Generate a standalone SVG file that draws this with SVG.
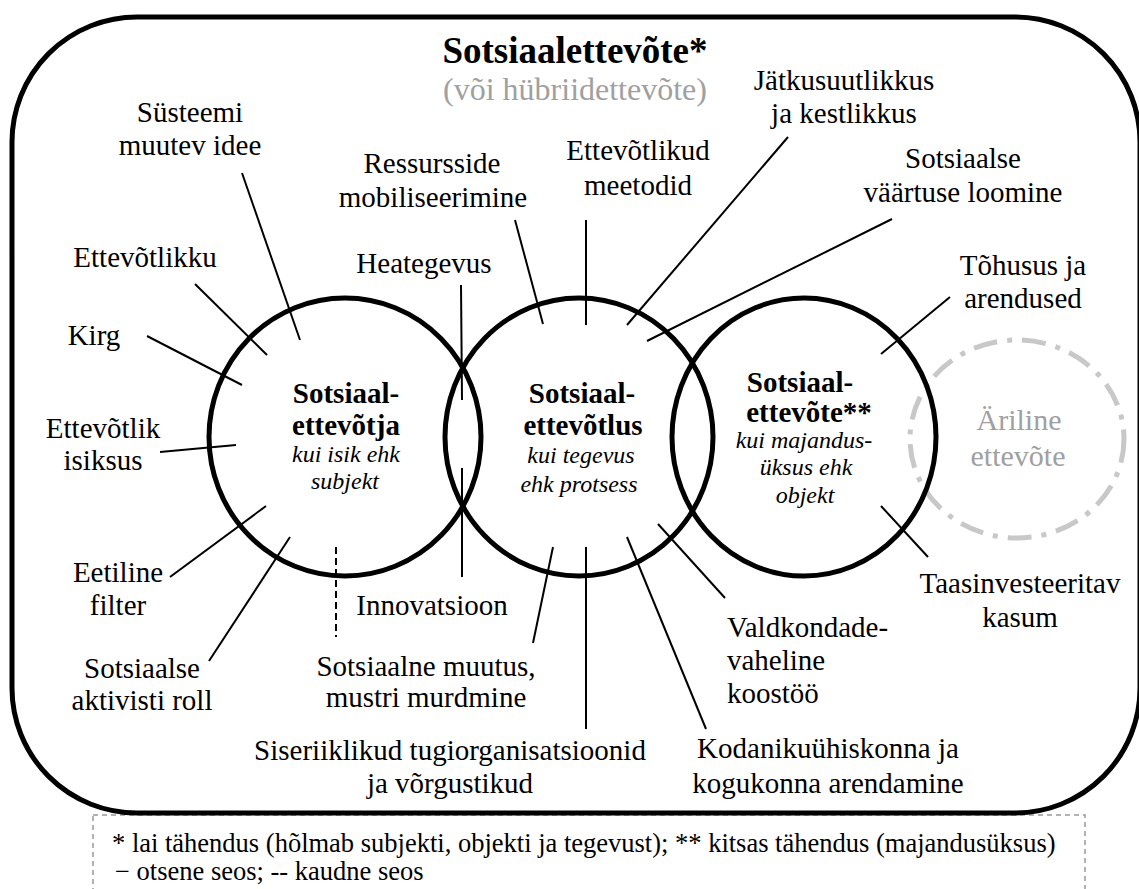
<svg xmlns="http://www.w3.org/2000/svg" width="1139" height="889" viewBox="0 0 1139 889" font-family="'Liberation Serif', 'DejaVu Serif', serif">
<style>
text{font-family:'Liberation Serif','DejaVu Serif',serif;fill:#000}
.lbl{font-size:29px;text-anchor:middle}
.lbl-l{font-size:29px;text-anchor:start}
.cb{font-size:29px;font-weight:bold;text-anchor:middle}
.ci{font-size:24px;font-style:italic;text-anchor:middle}
.gray{fill:#a0a0a0}
.circ{fill:none;stroke:#000;stroke-width:5}
.ln{stroke:#000;stroke-width:2;fill:none}
.dash{stroke:#000;stroke-width:2;stroke-dasharray:7 4;fill:none}
.leg{font-size:26.5px}
</style>
<rect width="1139" height="889" fill="#fff"/>
<g id="legend">
<rect x="93" y="815" width="992" height="100" fill="none" stroke="#999" stroke-width="1.5" stroke-dasharray="5 4"/>
<text class="leg" x="112" y="852">* lai tähendus (hõlmab subjekti, objekti ja tegevust); ** kitsas tähendus (majandusüksus)</text>
<text class="leg" x="115" y="880">− otsene seos; -- kaudne seos</text>
</g>
<g id="frame">
<rect x="12" y="17" width="1128" height="796" rx="125" ry="125" fill="none" stroke="#000" stroke-width="5"/>
<text x="575" y="63" style="font-size:37px;font-weight:bold;text-anchor:middle">Sotsiaalettevõte*</text>
<text class="gray" x="575" y="100" style="font-size:32px;text-anchor:middle">(või hübriidettevõte)</text>
</g>
<g id="arilise">
<ellipse cx="1017" cy="439" rx="107" ry="99" fill="none" stroke="#c8c8c8" stroke-width="5" stroke-dasharray="24 10 5 10"/>
<text class="gray" x="1019" y="430" style="font-size:30px;text-anchor:middle">Äriline</text>
<text class="gray" x="1018" y="466" style="font-size:30px;text-anchor:middle">ettevõte</text>
</g>
<g id="connectors">
<line class="ln" x1="242" y1="173" x2="300" y2="340"/>
<line class="ln" x1="195" y1="284" x2="267" y2="355"/>
<line class="ln" x1="147" y1="336" x2="242" y2="385"/>
<line class="ln" x1="160" y1="452" x2="236" y2="445"/>
<line class="ln" x1="170" y1="577" x2="266" y2="506"/>
<line class="ln" x1="209" y1="661" x2="290" y2="537"/>
<line class="dash" x1="336" y1="547" x2="336" y2="637"/>
<line class="ln" x1="461" y1="285" x2="462" y2="400"/>
<line class="ln" x1="462" y1="468" x2="462" y2="577"/>
<line class="ln" x1="515" y1="220" x2="543" y2="324"/>
<line class="ln" x1="586" y1="220" x2="586" y2="325"/>
<line class="ln" x1="788" y1="137" x2="627" y2="325"/>
<line class="ln" x1="892" y1="219" x2="647" y2="341"/>
<line class="ln" x1="950" y1="297" x2="881" y2="354"/>
<line class="ln" x1="881" y1="506" x2="928" y2="557"/>
<line class="ln" x1="658" y1="524" x2="725" y2="598"/>
<line class="ln" x1="627" y1="537" x2="706" y2="729"/>
<line class="ln" x1="586" y1="547" x2="586" y2="729"/>
<line class="ln" x1="553" y1="547" x2="533" y2="643"/>
</g>
<g id="ettevotja">
<ellipse class="circ" cx="345" cy="437" rx="136" ry="139"/>
<text class="cb" x="346" y="403">Sotsiaal-</text>
<text class="cb" x="346" y="435">ettevõtja</text>
<text class="ci" x="346" y="462">kui isik ehk</text>
<text class="ci" x="345" y="489">subjekt</text>
</g>
<g id="ettevotlus">
<ellipse class="circ" cx="579" cy="437" rx="134" ry="139"/>
<text class="cb" x="582" y="403">Sotsiaal-</text>
<text class="cb" x="583" y="435">ettevõtlus</text>
<text class="ci" x="581" y="463">kui tegevus</text>
<text class="ci" x="579" y="492">ehk protsess</text>
</g>
<g id="ettevote">
<ellipse class="circ" cx="804" cy="437" rx="132" ry="139"/>
<text class="cb" x="800" y="392">Sotsiaal-</text>
<text class="cb" x="809" y="422">ettevõte**</text>
<text class="ci" x="804" y="448">kui majandus-</text>
<text class="ci" x="806" y="475">üksus ehk</text>
<text class="ci" x="805" y="503">objekt</text>
</g>
<g id="susteemi"><text class="lbl" x="190" y="122">Süsteemi</text><text class="lbl" x="190" y="155">muutev idee</text></g>
<g id="ettevotlikku"><text class="lbl" x="145" y="267">Ettevõtlikku</text></g>
<g id="kirg"><text class="lbl" x="94" y="345">Kirg</text></g>
<g id="isiksus"><text class="lbl" x="103" y="438">Ettevõtlik</text><text class="lbl" x="103" y="470">isiksus</text></g>
<g id="filter"><text class="lbl" x="118" y="582">Eetiline</text><text class="lbl" x="118" y="615">filter</text></g>
<g id="aktivist"><text class="lbl" x="142" y="678">Sotsiaalse</text><text class="lbl" x="142" y="710">aktivisti roll</text></g>
<g id="heategevus"><text class="lbl" x="424" y="273">Heategevus</text></g>
<g id="innovatsioon"><text class="lbl" x="432" y="615">Innovatsioon</text></g>
<g id="ressursid"><text class="lbl" x="432" y="173">Ressursside</text><text class="lbl" x="433" y="207">mobiliseerimine</text></g>
<g id="meetodid"><text class="lbl" x="638" y="160">Ettevõtlikud</text><text class="lbl" x="638" y="195">meetodid</text></g>
<g id="jatkusuutlikkus"><text class="lbl" x="844" y="90">Jätkusuutlikkus</text><text class="lbl" x="844" y="123">ja kestlikkus</text></g>
<g id="vaartus"><text class="lbl" x="963" y="168">Sotsiaalse</text><text class="lbl" x="963" y="202">väärtuse loomine</text></g>
<g id="tohusus"><text class="lbl" x="1023" y="275">Tõhusus ja</text><text class="lbl" x="1023" y="308">arendused</text></g>
<g id="taasinvest"><text class="lbl" x="1020" y="593">Taasinvesteeritav</text><text class="lbl" x="1020" y="627">kasum</text></g>
<g id="valdkondade"><text class="lbl-l" x="727" y="637">Valdkondade-</text><text class="lbl-l" x="727" y="670">vaheline</text><text class="lbl-l" x="727" y="703">koostöö</text></g>
<g id="kodanik"><text class="lbl" x="828" y="758">Kodanikuühiskonna ja</text><text class="lbl" x="828" y="793">kogukonna arendamine</text></g>
<g id="siseriiklik"><text class="lbl" x="450" y="760">Siseriiklikud tugiorganisatsioonid</text><text class="lbl" x="450" y="793">ja võrgustikud</text></g>
<g id="muutus"><text class="lbl" x="426" y="676">Sotsiaalne muutus,</text><text class="lbl" x="426" y="707">mustri murdmine</text></g>
</svg>
